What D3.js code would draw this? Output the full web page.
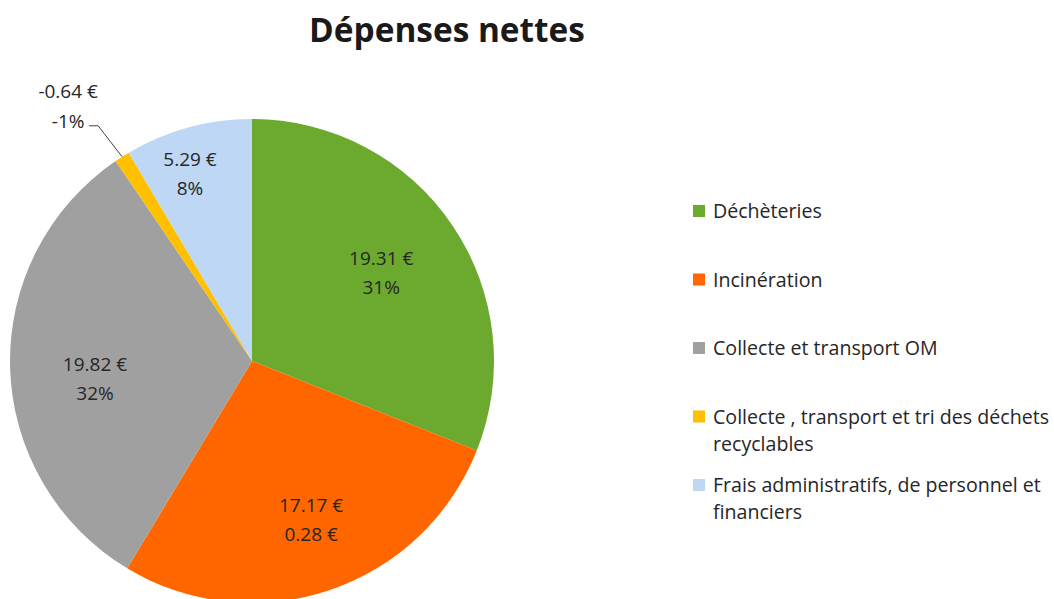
<!DOCTYPE html>
<html><head><meta charset="utf-8">
<script src="https://cdn.jsdelivr.net/npm/d3@7"></script>
<style>body{margin:0;background:#fff;} svg{display:block;}</style>
</head><body>
<svg id="c" width="1054" height="599"></svg>
<script>
const title = "Dépenses nettes";
const categories = ["Déchèteries", "Incinération", "Collecte et transport OM", "Collecte , transport et tri des déchets recyclables", "Frais administratifs, de personnel et financiers"];
const values = [19.31, 17.17, 19.82, -0.64, 5.29];
const secondLines = ["31%", "0.28 €", "32%", "-1%", "8%"];
const colors = ["#6CA92F", "#FF6600", "#A0A0A0", "#FFC000", "#BDD7F5"];

const W = 1054, H = 599;
const cx = 252, cy = 361, R = 242;
// label placement (style): radius fraction and angular nudge in degrees
const labelFrac = [0.645, 0.70, 0.653, 0, 0.816];
const labelTurn = [0, -1.8, -4.8, 0, -3];
const font = "'Open Sans', sans-serif";
const fs = 19;
const legFs = 19.6;
const svg = d3.select("#c");

svg.append("text").attr("x", 447).attr("y", 42).attr("text-anchor", "middle")
  .attr("font-family", font).attr("font-weight", "bold").attr("font-size", 33.4)
  .attr("fill", "#1a1a1a").text(title);

const pie = d3.pie().sort(null).value(d => Math.abs(d));
const arcs = pie(values);
const arc = d3.arc().innerRadius(0).outerRadius(R);
const g = svg.append("g").attr("transform", `translate(${cx},${cy})`);
g.selectAll("path").data(arcs).join("path").attr("d", arc).attr("fill", (d, i) => colors[i]);

const fmt = v => v.toFixed(2) + " €";
arcs.forEach((a, i) => {
  const mid = (a.startAngle + a.endAngle) / 2 + labelTurn[i] * Math.PI / 180;
  if (labelFrac[i] > 0) {
    const r = R * labelFrac[i];
    const x = r * Math.sin(mid), y = -r * Math.cos(mid);
    const t = g.append("text").attr("text-anchor", "middle").attr("font-family", font)
      .attr("font-size", fs).attr("fill", "#262626");
    t.append("tspan").attr("x", x).attr("y", y - 8).text(fmt(values[i]));
    t.append("tspan").attr("x", x).attr("y", y + 21).text(secondLines[i]);
  } else {
    const px = R * Math.sin(mid), py = -R * Math.cos(mid);
    const ex = px - 24, ey = py - 31;
    const lx = ex - 9;
    g.append("path").attr("d", `M${px},${py}L${ex},${ey}L${lx},${ey}`)
      .attr("fill", "none").attr("stroke", "#404040").attr("stroke-width", 1);
    const t = g.append("text").attr("text-anchor", "middle").attr("font-family", font)
      .attr("font-size", fs).attr("fill", "#262626");
    t.append("tspan").attr("x", lx - 21).attr("y", ey - 28).text(fmt(values[i]));
    t.append("tspan").attr("x", lx - 21).attr("y", ey + 2).text(secondLines[i]);
  }
});

// legend
const lx0 = 693, ly0 = 211, step = 68.5, maxW = 345;
const leg = svg.append("g");
categories.forEach((c, i) => {
  const y = ly0 + i * step;
  leg.append("rect").attr("x", lx0).attr("y", y - 6).attr("width", 12).attr("height", 12).attr("fill", colors[i]);
  const t = leg.append("text").attr("font-family", font).attr("font-size", legFs).attr("fill", "#262626");
  const words = c.split(" ");
  let line = [], lineNo = 0;
  let ts = t.append("tspan").attr("x", lx0 + 20).attr("y", y + 7);
  words.forEach(w => {
    line.push(w);
    ts.text(line.join(" "));
    if (ts.node().getComputedTextLength() > maxW && line.length > 1) {
      line.pop(); ts.text(line.join(" "));
      line = [w]; lineNo++;
      ts = t.append("tspan").attr("x", lx0 + 20).attr("y", y + 7 + lineNo * 27).text(w);
    }
  });
});
</script>
</body></html>
